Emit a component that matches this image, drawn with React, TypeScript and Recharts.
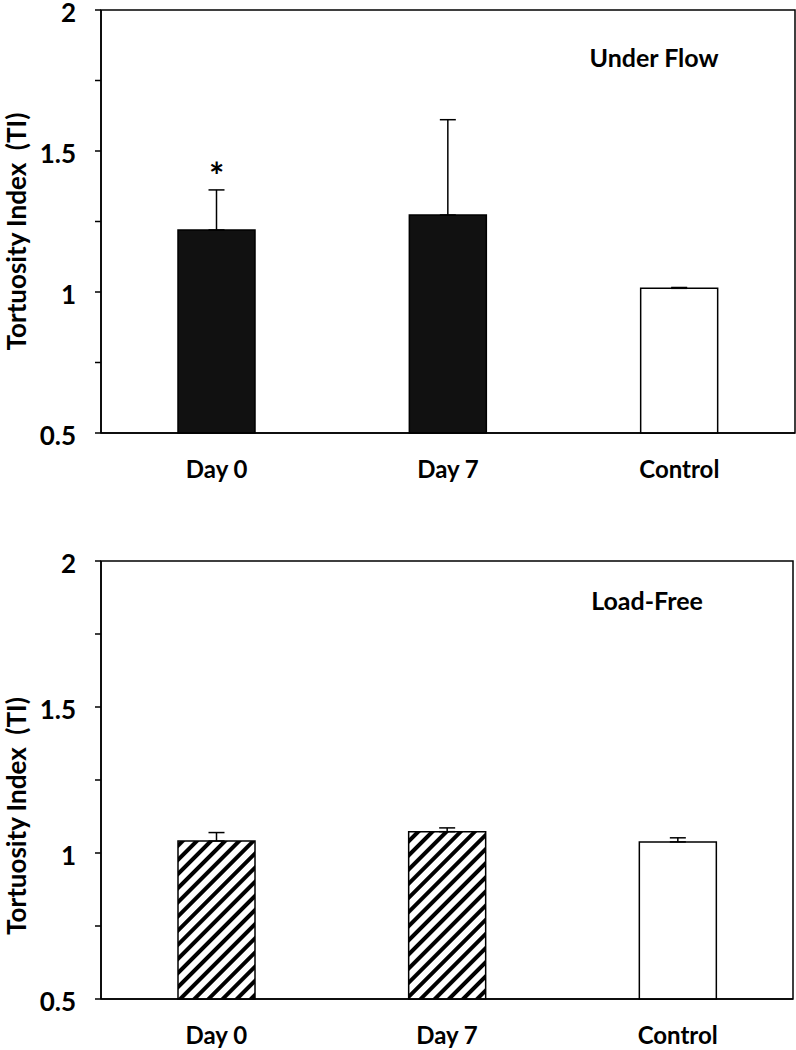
import React from "react";
import {
    ComposedChart,
    Bar,
    Cell,
    ErrorBar,
    Scatter,
    XAxis,
    YAxis,
    ReferenceArea,
} from "recharts";

const categories = ["Day 0", "Day 7", "Control"];

// Under Flow panel
const flowMeans = [1.22, 1.273, 1.013];
const flowErrors = [0.142, 0.338, 0.003];
const flowStars = [1.44, null, null];

// Load-Free panel
const freeMeans = [1.041, 1.073, 1.038];
const freeErrors = [0.029, 0.013, 0.014];

const yTicks = [0.5, 0.75, 1, 1.25, 1.5, 1.75, 2];
const yLabels = ["0.5", "1", "1.5", "2"];

const flowData = categories.map((name, i) => ({
    name,
    value: flowMeans[i],
    err: [0, flowErrors[i]],
    star: flowStars[i],
}));

const freeData = categories.map((name, i) => ({
    name,
    value: freeMeans[i],
    err: [0, freeErrors[i]],
}));

const FONT = "Lato, 'Open Sans', sans-serif";

const fmtTick = (v: number) => (yLabels.includes(String(v)) ? String(v) : "");

const StarShape = (props: any) => {
    if (props.cx == null || props.cy == null) return null;
    const fs = 36;
    return (
        <text
            x={props.cx}
            y={props.cy + fs * 0.58}
            textAnchor="middle"
            fontFamily={FONT}
            fontWeight={700}
            fontSize={fs}
            fill="#000"
        >
            *
        </text>
    );
};

const YTick = (props: any) => {
    const { x, y, payload } = props;
    const txt = fmtTick(payload.value);
    if (!txt) return null;
    return (
        <text
            x={x}
            y={y + 2}
            textAnchor="end"
            dominantBaseline="central"
            fontFamily={FONT}
            fontWeight={700}
            fontSize={26}
            fill="#000"
        >
            {txt}
        </text>
    );
};

const yLabel = (shift: number) => (props: any) => {
    const vb = props.viewBox || {};
    const cy = vb.y + vb.height / 2 + shift;
    return (
        <text
            x={16}
            y={cy}
            transform={`rotate(-90, 16, ${cy})`}
            textAnchor="middle"
            dominantBaseline="central"
            fontFamily={FONT}
            fontWeight={700}
            fontSize={26}
            fill="#000"
            style={{ whiteSpace: "pre" }}
        >
            {"Tortuosity Index  (TI)"}
        </text>
    );
};

type PanelProps = {
    data: any[];
    fills: string[];
    top: number;
    height: number;
    marginTop: number;
    marginRight: number;
    xHeight: number;
    labelShift: number;
    title: string;
    titleX: number;
    titleY: number;
    showStar?: boolean;
};

function Panel(p: PanelProps) {
    return (
        <div style={{ position: "absolute", left: 0, top: p.top, width: 796, height: p.height }}>
            <ComposedChart
                width={796}
                height={p.height}
                data={p.data}
                margin={{ top: p.marginTop, right: p.marginRight, left: 0, bottom: 0 }}
                style={{ overflow: "visible" }}
            >
                <defs>
                    <pattern
                        id="hatch"
                        width="10"
                        height="10"
                        patternUnits="userSpaceOnUse"
                        patternTransform="rotate(45)"
                    >
                        <rect width="10" height="10" fill="#fff" />
                        <rect width="4" height="10" fill="#000" />
                    </pattern>
                </defs>
                <ReferenceArea y1={0.5} y2={2} fill="none" stroke="#000" strokeWidth={1.5} />
                <XAxis
                    dataKey="name"
                    height={p.xHeight}
                    tickLine={false}
                    tickSize={0}
                    tickMargin={28}
                    axisLine={{ stroke: "#000", strokeWidth: 1.5 }}
                    tick={{ fill: "#000", fontSize: 24, fontWeight: 700, fontFamily: FONT }}
                />
                <YAxis
                    width={101}
                    domain={[0.5, 2]}
                    ticks={yTicks}
                    interval={0}
                    tickSize={6}
                    tickMargin={19}
                    axisLine={{ stroke: "#000", strokeWidth: 1.5 }}
                    tickLine={{ stroke: "#000", strokeWidth: 1.5 }}
                    tick={<YTick />}
                    label={{ content: yLabel(p.labelShift) }}
                />
                <Bar
                    dataKey="value"
                    barSize={77}
                    stroke="#000"
                    strokeWidth={1.5}
                    isAnimationActive={false}
                >
                    {p.data.map((d, i) => (
                        <Cell key={d.name} fill={p.fills[i]} />
                    ))}
                    <ErrorBar dataKey="err" width={8} stroke="#000" strokeWidth={1.5} direction="y" />
                </Bar>
                {p.showStar && (
                    <Scatter dataKey="star" shape={<StarShape />} isAnimationActive={false} />
                )}
            </ComposedChart>
            <div
                style={{
                    position: "absolute",
                    left: p.titleX,
                    top: p.titleY,
                    transform: "translate(-50%, -50%)",
                    fontFamily: FONT,
                    fontWeight: 700,
                    fontSize: 25,
                    whiteSpace: "nowrap",
                    color: "#000",
                }}
            >
                {p.title}
            </div>
        </div>
    );
}

export default function App() {
    return (
        <div style={{ position: "absolute", left: 0, top: 0, width: 796, height: 1050, background: "#fff" }}>
            <Panel
                data={flowData}
                fills={["#111", "#111", "#fff"]}
                top={0}
                height={500}
                marginTop={10}
                marginRight={1}
                xHeight={67}
                labelShift={10}
                title="Under Flow"
                titleX={654}
                titleY={57}
                showStar
            />
            <Panel
                data={freeData}
                fills={["url(#hatch)", "url(#hatch)", "#fff"]}
                top={540}
                height={510}
                marginTop={21}
                marginRight={3}
                xHeight={51}
                labelShift={36}
                title="Load-Free"
                titleX={647}
                titleY={60}
            />
        </div>
    );
}
